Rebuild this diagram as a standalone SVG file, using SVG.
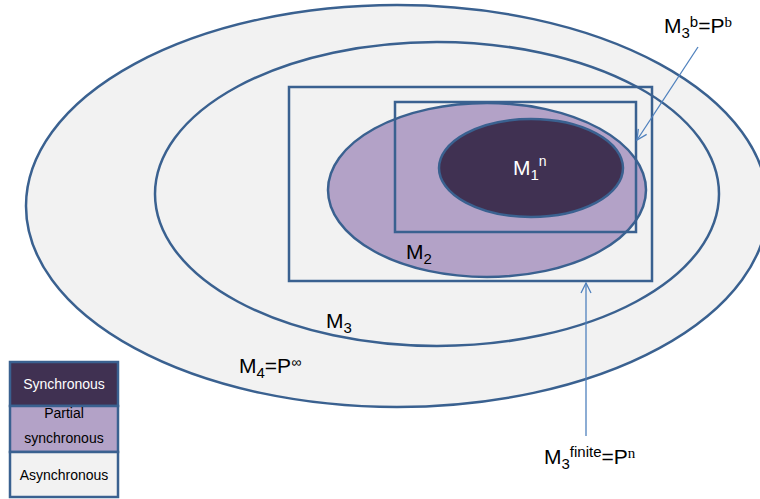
<svg xmlns="http://www.w3.org/2000/svg" width="760" height="499" viewBox="0 0 760 499">
<defs>
<style>
.sh{stroke:#3a6190;stroke-width:2.5}
.lbl{font-family:"Liberation Sans",Arial,sans-serif;font-size:21px;fill:#000}
.leg{font-family:"Liberation Sans",Arial,sans-serif;font-size:14px;text-anchor:middle}
.conn{stroke:#4f81bd;stroke-width:1.3;fill:none}
</style>
<marker id="arr" viewBox="0 0 12 12" refX="11" refY="6" markerWidth="12" markerHeight="12" markerUnits="userSpaceOnUse" orient="auto">
<path d="M1,1 L11,6 L1,11" fill="none" stroke="#4f81bd" stroke-width="1.3"/>
</marker>
</defs>
<rect width="760" height="499" fill="#fff"/>
<g id="M4"><ellipse cx="397" cy="206" rx="371" ry="201" fill="#f2f2f2" class="sh"/></g>
<g id="M3"><ellipse cx="437" cy="194" rx="282" ry="152" fill="#f2f2f2" class="sh"/></g>
<g id="M3finite"><rect x="289" y="87" width="363" height="194" fill="none" class="sh"/></g>
<g id="M2"><ellipse cx="487" cy="190" rx="159" ry="87" fill="#b3a2c7" class="sh"/></g>
<g id="M3b"><rect x="395" y="102" width="241" height="130" fill="none" class="sh"/></g>
<g id="M1"><ellipse cx="531" cy="168" rx="92" ry="49" fill="#403152" class="sh"/></g>
<g id="connectors">
<line x1="698" y1="47" x2="637" y2="140" class="conn" marker-end="url(#arr)"/>
<line x1="586" y1="436" x2="586" y2="283" class="conn" marker-end="url(#arr)"/>
</g>
<g id="labels">
<text class="lbl" x="513" y="175" style="fill:#fff">M<tspan font-size="15" dy="5">1</tspan><tspan font-size="14" dy="-14">n</tspan></text>
<text class="lbl" x="406" y="259">M<tspan font-size="15" dy="5">2</tspan></text>
<text class="lbl" x="326" y="328">M<tspan font-size="15" dy="5">3</tspan></text>
<text class="lbl" x="239" y="373">M<tspan font-size="15" dy="5">4</tspan><tspan dy="-5">=P</tspan><tspan font-size="14" dy="-6">∞</tspan></text>
<text class="lbl" x="664" y="33">M<tspan font-size="15" dy="5">3</tspan><tspan font-size="15" dy="-11">b</tspan><tspan dy="6">=P</tspan><tspan font-size="15" dy="-6" font-family="Liberation Serif, serif">b</tspan></text>
<text class="lbl" x="544" y="464">M<tspan font-size="15" dy="5">3</tspan><tspan font-size="15" dy="-12">finite</tspan><tspan dy="7">=P</tspan><tspan font-size="15" dy="-6" font-family="Liberation Serif, serif">n</tspan></text>
</g>
<g id="legend">
<rect x="10" y="362" width="108" height="44" fill="#403152" class="sh"/>
<rect x="10" y="406" width="108" height="46" fill="#b3a2c7" class="sh"/>
<rect x="10" y="452" width="108" height="45" fill="#f2f2f2" class="sh"/>
<text class="leg" x="64" y="389" fill="#fff">Synchronous</text>
<text class="leg" x="64" y="418" fill="#000">Partial</text>
<text class="leg" x="64" y="443" fill="#000">synchronous</text>
<text class="leg" x="64" y="480" fill="#000">Asynchronous</text>
</g>
</svg>
